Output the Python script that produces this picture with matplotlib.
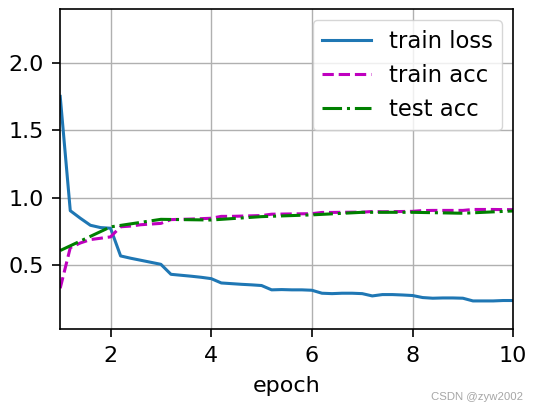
import matplotlib
matplotlib.use('Agg')
import numpy as np
from matplotlib import pyplot as plt

# x positions (fractions of epoch) for the training curves
epoch_x = [1.0,
           1.2, 1.4, 1.6, 1.8, 2.0,
           2.2, 2.4, 2.6, 2.8, 3.0,
           3.2, 3.4, 3.6, 3.8, 4.0,
           4.2, 4.4, 4.6, 4.8, 5.0,
           5.2, 5.4, 5.6, 5.8, 6.0,
           6.2, 6.4, 6.6, 6.8, 7.0,
           7.2, 7.4, 7.6, 7.8, 8.0,
           8.2, 8.4, 8.6, 8.8, 9.0,
           9.2, 9.4, 9.6, 9.8, 10.0]

train_loss = [1.75,
              0.904, 0.848, 0.796, 0.779, 0.774,
              0.569, 0.552, 0.537, 0.522, 0.507,
              0.433, 0.426, 0.419, 0.411, 0.401,
              0.369, 0.364, 0.359, 0.355, 0.350,
              0.318, 0.320, 0.318, 0.318, 0.315,
              0.293, 0.290, 0.293, 0.293, 0.290,
              0.273, 0.283, 0.283, 0.280, 0.276,
              0.261, 0.256, 0.258, 0.258, 0.256,
              0.236, 0.236, 0.236, 0.239, 0.239]

train_acc = [0.33,
             0.63, 0.665, 0.69, 0.70, 0.71,
             0.785, 0.79, 0.80, 0.805, 0.81,
             0.838, 0.84, 0.842, 0.845, 0.848,
             0.862, 0.862, 0.864, 0.866, 0.868,
             0.878, 0.879, 0.880, 0.881, 0.882,
             0.891, 0.891, 0.892, 0.893, 0.893,
             0.898, 0.896, 0.897, 0.898, 0.899,
             0.905, 0.906, 0.906, 0.906, 0.906,
             0.913, 0.913, 0.913, 0.912, 0.912]

test_x = [1, 2, 3, 4, 5, 6, 7, 8, 9, 10]
test_acc = [0.609, 0.784, 0.84, 0.835, 0.86, 0.873, 0.892, 0.892, 0.885, 0.902]

plt.rcParams['font.family'] = 'DejaVu Sans'
plt.rcParams['font.size'] = 16

fig = plt.figure(figsize=(5.39, 4.11), dpi=100)
ax = fig.add_axes([0.1117, 0.1988, 0.8405, 0.7793])

ax.plot(epoch_x, train_loss, '-', color='#1f77b4', lw=2.2, label='train loss')
ax.plot(epoch_x, train_acc, 'm--', lw=2.2, label='train acc')
ax.plot(test_x, test_acc, 'g-.', lw=2.2, label='test acc')

ax.set_xlim(1, 10)
ax.set_ylim(0.026, 2.397)
ax.set_xticks([2, 4, 6, 8, 10])
ax.set_yticks([0.5, 1.0, 1.5, 2.0])
ax.set_xlabel('epoch', labelpad=7)
ax.grid(True, color='#b0b0b0', lw=1.0)
for s in ax.spines.values():
    s.set_linewidth(1.2)
ax.tick_params(width=1.2, length=6, pad=6)

ax.legend(loc='upper right', handlelength=2.15, fontsize=16.4)

fig.text(0.970, 0.027, 'CSDN @zyw2002', fontsize=8.2, color='#a6a6a6', ha='right',
         family='Liberation Sans')

fig.savefig('out.png', dpi=100)
